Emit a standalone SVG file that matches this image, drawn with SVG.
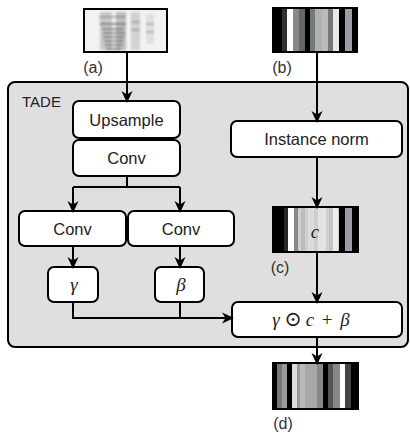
<svg xmlns="http://www.w3.org/2000/svg" width="410" height="434" viewBox="0 0 410 434">
<style>
.box{fill:#fff;stroke:#000;stroke-width:2}
.lbl{font-family:"Liberation Sans","DejaVu Sans",sans-serif;font-size:16.5px;fill:#222;text-anchor:middle}
.cap{font-family:"Liberation Sans","DejaVu Sans",sans-serif;font-size:16px;fill:#333;text-anchor:middle}
.math{font-family:"Liberation Serif","DejaVu Serif",serif;font-size:19px;fill:#222;text-anchor:middle}
.con{fill:none;stroke:#000;stroke-width:2}
.frame{fill:none;stroke:#000;stroke-width:2}
</style>
<defs>
<marker id="arr" viewBox="0 0 12 12" refX="10" refY="6" markerWidth="12" markerHeight="12" markerUnits="userSpaceOnUse" orient="auto">
<path d="M0,0.5 L12,6 L0,11.5 L3.5,6 z" fill="#000"/>
</marker>
<filter id="blur" x="-10%" y="-10%" width="120%" height="120%"><feGaussianBlur stdDeviation="1"/></filter>
<clipPath id="clipA"><rect x="84" y="9" width="83" height="43"/></clipPath>
</defs>

<g id="tade">
<rect x="8" y="82" width="400" height="265" rx="7" fill="#dfdfdf" stroke="#000" stroke-width="2"/>
<text x="22" y="107" style="font-family:'Liberation Sans','DejaVu Sans',sans-serif;font-size:15px;fill:#222">TADE</text>
</g>

<g id="image-a">
<rect x="84" y="9" width="83" height="43" fill="#f2f2f2"/>
<g clip-path="url(#clipA)" filter="url(#blur)">
<rect x="100" y="12" width="12" height="38" fill="#c8c8c8"/>
<rect x="116" y="12" width="10" height="38" fill="#bdbdbd"/>
<rect x="131" y="12" width="9" height="38" fill="#d2d2d2"/>
<rect x="146" y="14" width="8" height="30" fill="#e0e0e0"/>
<g stroke="#555" stroke-width="1.3">
<line x1="100" y1="24" x2="126" y2="24"/>
<line x1="102" y1="29" x2="124" y2="29"/>
<line x1="103" y1="33" x2="125" y2="33"/>
<line x1="103" y1="37" x2="124" y2="37"/>
<line x1="104" y1="41" x2="123" y2="41"/>
<line x1="105" y1="45" x2="122" y2="45"/>
<line x1="106" y1="49" x2="121" y2="49"/>
</g>
<g stroke="#888" stroke-width="1.2">
<line x1="99" y1="17" x2="126" y2="17"/>
<line x1="131" y1="22" x2="140" y2="22"/>
<line x1="131" y1="30" x2="140" y2="30"/>
<line x1="146" y1="24" x2="154" y2="24"/>
<line x1="146" y1="32" x2="154" y2="32"/>
</g>
</g>
<rect x="84" y="9" width="83" height="43" class="frame"/>
<text x="93" y="73" class="cap">(a)</text>
</g>

<g id="image-b">
<rect x="273" y="8" width="84" height="44" fill="#000"/>
<rect x="282" y="9" width="5" height="42" fill="#333"/>
<rect x="287" y="9" width="6" height="42" fill="#fff"/>
<rect x="293" y="9" width="6" height="42" fill="#888"/>
<rect x="299" y="9" width="6" height="42" fill="#666"/>
<rect x="310" y="9" width="5" height="42" fill="#777"/>
<rect x="315" y="9" width="7" height="42" fill="#a9b3b6"/>
<rect x="322" y="9" width="6" height="42" fill="#bbb"/>
<rect x="328" y="9" width="5" height="42" fill="#777"/>
<rect x="333" y="9" width="6" height="42" fill="#e8e8e8"/>
<rect x="345" y="9" width="7" height="42" fill="#9a9ca6"/>
<rect x="273" y="8" width="84" height="44" class="frame"/>
<text x="282" y="73" class="cap">(b)</text>
</g>

<g id="upsample">
<rect x="73" y="101" width="107" height="37" rx="6" class="box"/>
<text x="126.5" y="126" class="lbl">Upsample</text>
</g>
<g id="conv-shared">
<rect x="73" y="140" width="107" height="36" rx="6" class="box"/>
<text x="126.5" y="164" class="lbl">Conv</text>
</g>
<g id="conv-gamma">
<rect x="19" y="211" width="107" height="35" rx="6" class="box"/>
<text x="72.5" y="235" class="lbl">Conv</text>
</g>
<g id="conv-beta">
<rect x="128" y="211" width="106" height="35" rx="6" class="box"/>
<text x="181" y="235" class="lbl">Conv</text>
</g>
<g id="gamma">
<rect x="48" y="267" width="50" height="35" rx="6" class="box"/>
<text x="74" y="291" class="math" font-style="italic">γ</text>
</g>
<g id="beta">
<rect x="155" y="267" width="49" height="35" rx="6" class="box"/>
<text x="181" y="291" class="math" font-style="italic">β</text>
</g>

<g id="instance-norm">
<rect x="231" y="121" width="171" height="36" rx="6" class="box"/>
<text x="316.5" y="145" class="lbl">Instance norm</text>
</g>

<g id="image-c">
<rect x="273" y="207" width="85" height="45" fill="#000"/>
<rect x="284" y="208" width="4" height="43" fill="#2a2a2a"/>
<rect x="288" y="208" width="6" height="43" fill="#fff"/>
<rect x="294" y="208" width="4" height="43" fill="#888"/>
<rect x="298" y="208" width="41" height="43" rx="1" fill="#cfcfcf"/>
<rect x="301" y="208" width="4" height="43" fill="#b8bcbd"/>
<rect x="308" y="208" width="6" height="43" fill="#dcdcdc"/>
<rect x="318" y="208" width="8" height="43" fill="#e4e4e4"/>
<rect x="329" y="208" width="4" height="43" fill="#c4c4c4"/>
<rect x="333" y="208" width="5" height="43" fill="#ececec"/>
<rect x="345" y="208" width="7" height="43" fill="#9a9ca6"/>
<rect x="273" y="207" width="85" height="45" class="frame"/>
<text x="315" y="238" class="math" font-style="italic">c</text>
<text x="280" y="273" class="cap">(c)</text>
</g>

<g id="formula">
<rect x="232" y="302" width="170" height="35" rx="6" class="box"/>
<text class="math" y="326"><tspan x="276" font-style="italic">γ</tspan><tspan x="293" font-size="21">⊙</tspan><tspan x="310" font-style="italic">c</tspan><tspan x="327">+</tspan><tspan x="345" font-style="italic">β</tspan></text>
</g>

<g id="image-d">
<rect x="273" y="363" width="85" height="46" fill="#000"/>
<rect x="277" y="364" width="5" height="44" fill="#777"/>
<rect x="282" y="364" width="5" height="44" fill="#999"/>
<rect x="292" y="364" width="5" height="44" fill="#ddd"/>
<rect x="297" y="364" width="3" height="44" fill="#999"/>
<rect x="300" y="364" width="5" height="44" fill="#bbb"/>
<rect x="305" y="364" width="12" height="44" fill="#a8a8a8"/>
<rect x="317" y="364" width="6" height="44" fill="#888"/>
<rect x="328" y="364" width="5" height="44" fill="#555"/>
<rect x="333" y="364" width="7" height="44" fill="#888"/>
<rect x="340" y="364" width="5" height="44" fill="#fff"/>
<rect x="345" y="364" width="6" height="44" fill="#444"/>
<rect x="273" y="363" width="85" height="46" class="frame"/>
<text x="283" y="429" class="cap">(d)</text>
</g>

<g id="connectors">
<path class="con" d="M127,52 V101" marker-end="url(#arr)"/>
<path class="con" d="M317,52 V121" marker-end="url(#arr)"/>
<path class="con" d="M127,176 V187 M73,187 H180"/>
<path class="con" d="M73,187 V211" marker-end="url(#arr)"/>
<path class="con" d="M180,187 V211" marker-end="url(#arr)"/>
<path class="con" d="M73,246 V267" marker-end="url(#arr)"/>
<path class="con" d="M180,246 V267" marker-end="url(#arr)"/>
<path class="con" d="M73,302 V318 H232" marker-end="url(#arr)"/>
<path class="con" d="M180,302 V318"/>
<path class="con" d="M317,157 V207" marker-end="url(#arr)"/>
<path class="con" d="M317,252 V302" marker-end="url(#arr)"/>
<path class="con" d="M317,337 V363" marker-end="url(#arr)"/>
</g>
</svg>
